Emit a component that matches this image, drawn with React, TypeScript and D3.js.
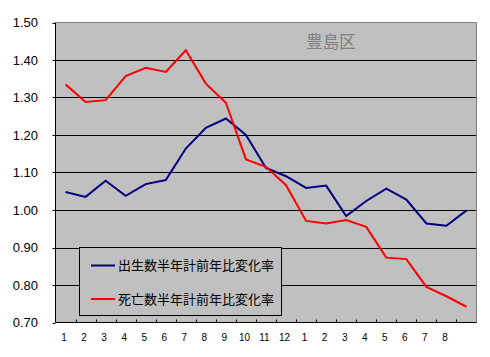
import React from "react";
import * as d3 from "d3";

const categories = ["1","2","3","4","5","6","7","8","9","10","11","12","1","2","3","4","5","6","7","8",""];
const birthRatio = [1.048,1.035,1.078,1.038,1.069,1.080,1.164,1.219,1.244,1.200,1.112,1.090,1.059,1.065,0.984,1.024,1.057,1.028,0.964,0.958,0.999];
const deathRatio = [1.335,1.288,1.293,1.357,1.379,1.368,1.426,1.337,1.286,1.135,1.115,1.066,0.971,0.964,0.973,0.955,0.873,0.869,0.795,0.770,0.742];
const yTicks = [0.7,0.8,0.9,1.0,1.1,1.2,1.3,1.4,1.5];
const seriesNames = ["出生数半年計前年比変化率","死亡数半年計前年比変化率"];
const title = "豊島区";

export default function App() {
  const W = 490, H = 357;
  const L = 55.5, T = 22.5, R = 476.5, B = 322.5;
  const x = d3.scaleBand<number>().domain(d3.range(categories.length)).range([L, R]);
  const y = d3.scaleLinear().domain([0.7, 1.5]).range([B, T]);
  const cx = (i: number) => (x(i) as number) + x.bandwidth() / 2;
  const line = d3.line<number>().x((_, i) => cx(i)).y(d => y(d));
  const font = "'Liberation Sans', Arial, sans-serif";
  const jp = "'Noto Sans CJK JP', sans-serif";
  const lg = { x: 79.5, y: 247.5, w: 202, h: 68 };
  return (
    <div style={{ position: "absolute", left: 0, top: 0 }}>
      <svg width={W} height={H} style={{ display: "block", background: "#fff" }}>
        <rect x={L} y={T} width={R - L} height={B - T} fill="#c0c0c0" />
        {yTicks.slice(1, -1).map(t => (
          <line key={t} x1={L} x2={R} y1={Math.round(y(t)) + 0.5} y2={Math.round(y(t)) + 0.5} stroke="#000" strokeWidth={1} />
        ))}
        <line x1={L} x2={R} y1={T} y2={T} stroke="#808080" />
        <line x1={R} x2={R} y1={T} y2={B} stroke="#808080" />
        <line x1={L} x2={L} y1={T} y2={B} stroke="#000" />
        <line x1={L} x2={R} y1={B} y2={B} stroke="#000" />
        {yTicks.map(t => (
          <line key={"yt" + t} x1={L - 3} x2={L} y1={Math.round(y(t)) + 0.5} y2={Math.round(y(t)) + 0.5} stroke="#000" />
        ))}
        {d3.range(1, categories.length).map(i => (
          <line key={"xt" + i} x1={Math.round(x(i) as number) + 0.5} x2={Math.round(x(i) as number) + 0.5} y1={B - 3} y2={B} stroke="#000" />
        ))}
        {yTicks.map(t => (
          <text key={"yl" + t} x={38} y={y(t)} dy="0.35em" textAnchor="end" fontFamily={font} fontSize={13} fill="#000">
            {t.toFixed(2)}
          </text>
        ))}
        {categories.map((c, i) => (
          <text key={"xl" + i} x={cx(i) - 1.5} y={337} dy="0.35em" textAnchor="middle" fontFamily={font} fontSize={10} fill="#000">
            {c}
          </text>
        ))}
        <text x={331} y={42} dy="0.35em" textAnchor="middle" fontFamily={jp} fontSize={16.5} fill="#808080">{title}</text>
        <path d={line(birthRatio) || ""} fill="none" stroke="#000080" strokeWidth={2} />
        <path d={line(deathRatio) || ""} fill="none" stroke="#ff0000" strokeWidth={2} />
        <rect x={lg.x} y={lg.y} width={lg.w} height={lg.h} fill="#c0c0c0" stroke="#000" strokeWidth={1} />
        {seriesNames.map((n, i) => {
          const ly = i === 0 ? 265.5 : 299;
          return (
            <g key={n}>
              <line x1={91} x2={115} y1={ly} y2={ly} stroke={i === 0 ? "#000080" : "#ff0000"} strokeWidth={2} />
              <text x={118} y={ly} dy="0.35em" fontFamily={jp} fontSize={13} fill="#000">{n}</text>
            </g>
          );
        })}
      </svg>
    </div>
  );
}
